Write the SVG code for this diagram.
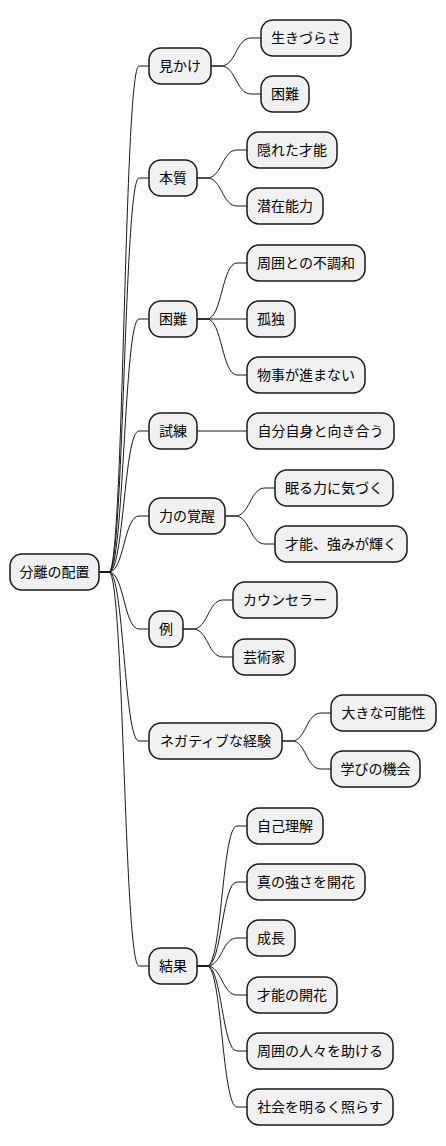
<svg xmlns="http://www.w3.org/2000/svg" width="446" height="1146" viewBox="0 0 446 1146">
<style>
.n rect{fill:#F1F1F1;stroke:#181818;stroke-width:1.5}
.n text{font-family:"Noto Sans CJK JP","Noto Sans",sans-serif;font-size:14px;fill:#000;text-anchor:middle}
#edges path{fill:none;stroke:#181818;stroke-width:1}
</style>
<rect width="446" height="1146" fill="#FFFFFF"/>
<g id="edges">
<path d="M99,572 L109,572 C124,572 124,66 139,66 L149,66"/>
<path d="M99,572 L109,572 C124,572 124,178 139,178 L149,178"/>
<path d="M99,572 L109,572 C124,572 124,319 139,319 L149,319"/>
<path d="M99,572 L109,572 C124,572 124,431 139,431 L149,431"/>
<path d="M99,572 L109,572 C124,572 124,516 139,516 L149,516"/>
<path d="M99,572 L109,572 C124,572 124,629 139,629 L149,629"/>
<path d="M99,572 L109,572 C124,572 124,741 139,741 L149,741"/>
<path d="M99,572 L109,572 C124,572 124,966 139,966 L149,966"/>
<path d="M211,66 L221,66 C236,66 236,38 251,38 L261,38"/>
<path d="M211,66 L221,66 C236,66 236,94 251,94 L261,94"/>
<path d="M197,178 L207,178 C222,178 222,150 237,150 L247,150"/>
<path d="M197,178 L207,178 C222,178 222,206 237,206 L247,206"/>
<path d="M197,319 L207,319 C222,319 222,263 237,263 L247,263"/>
<path d="M197,319 L247,319"/>
<path d="M197,319 L207,319 C222,319 222,375 237,375 L247,375"/>
<path d="M197,431 L247,431"/>
<path d="M225,516 L235,516 C250,516 250,488 265,488 L275,488"/>
<path d="M225,516 L235,516 C250,516 250,544 265,544 L275,544"/>
<path d="M183,629 L193,629 C208,629 208,600 223,600 L233,600"/>
<path d="M183,629 L193,629 C208,629 208,657 223,657 L233,657"/>
<path d="M282,741 L292,741 C306,741 306,713 321,713 L331,713"/>
<path d="M282,741 L292,741 C306,741 306,769 321,769 L331,769"/>
<path d="M197,966 L207,966 C222,966 222,826 237,826 L247,826"/>
<path d="M197,966 L207,966 C222,966 222,882 237,882 L247,882"/>
<path d="M197,966 L207,966 C222,966 222,938 237,938 L247,938"/>
<path d="M197,966 L207,966 C222,966 222,995 237,995 L247,995"/>
<path d="M197,966 L207,966 C222,966 222,1051 237,1051 L247,1051"/>
<path d="M197,966 L207,966 C222,966 222,1107 237,1107 L247,1107"/>
</g>
<g id="root" class="n"><rect x="10" y="554" width="89" height="36" rx="12"/><text x="54.5" y="577">分離の配置</text></g>
<g id="n_mikake" class="n"><rect x="149" y="48" width="62" height="36" rx="12"/><text x="180" y="71">見かけ</text></g>
<g id="n_honshitsu" class="n"><rect x="149" y="160" width="48" height="36" rx="12"/><text x="173" y="183">本質</text></g>
<g id="n_konnan" class="n"><rect x="149" y="301" width="48" height="36" rx="12"/><text x="173" y="324">困難</text></g>
<g id="n_shiren" class="n"><rect x="149" y="413" width="48" height="36" rx="12"/><text x="173" y="436">試練</text></g>
<g id="n_kakusei" class="n"><rect x="149" y="498" width="76" height="36" rx="12"/><text x="187" y="521">力の覚醒</text></g>
<g id="n_rei" class="n"><rect x="149" y="611" width="34" height="36" rx="12"/><text x="166" y="634">例</text></g>
<g id="n_negative" class="n"><rect x="149" y="723" width="133" height="36" rx="12"/><text x="215.5" y="746">ネガティブな経験</text></g>
<g id="n_kekka" class="n"><rect x="149" y="948" width="48" height="36" rx="12"/><text x="173" y="971">結果</text></g>
<g id="c_ikizurasa" class="n"><rect x="261" y="20" width="90" height="36" rx="12"/><text x="306" y="43">生きづらさ</text></g>
<g id="c_konnan2" class="n"><rect x="261" y="76" width="48" height="36" rx="12"/><text x="285" y="99">困難</text></g>
<g id="c_kakureta" class="n"><rect x="247" y="132" width="90" height="36" rx="12"/><text x="292" y="155">隠れた才能</text></g>
<g id="c_senzai" class="n"><rect x="247" y="188" width="76" height="36" rx="12"/><text x="285" y="211">潜在能力</text></g>
<g id="c_fuchowa" class="n"><rect x="247" y="245" width="118" height="36" rx="12"/><text x="306" y="268">周囲との不調和</text></g>
<g id="c_kodoku" class="n"><rect x="247" y="301" width="48" height="36" rx="12"/><text x="271" y="324">孤独</text></g>
<g id="c_susumanai" class="n"><rect x="247" y="357" width="118" height="36" rx="12"/><text x="306" y="380">物事が進まない</text></g>
<g id="c_mukiau" class="n"><rect x="247" y="413" width="147" height="36" rx="12"/><text x="320.5" y="436">自分自身と向き合う</text></g>
<g id="c_nemuru" class="n"><rect x="275" y="470" width="118" height="36" rx="12"/><text x="334" y="493">眠る力に気づく</text></g>
<g id="c_kagayaku" class="n"><rect x="275" y="526" width="132" height="36" rx="12"/><text x="341" y="549">才能、強みが輝く</text></g>
<g id="c_counselor" class="n"><rect x="233" y="582" width="104" height="36" rx="12"/><text x="285" y="605">カウンセラー</text></g>
<g id="c_geijutsuka" class="n"><rect x="233" y="639" width="62" height="36" rx="12"/><text x="264" y="662">芸術家</text></g>
<g id="c_kanousei" class="n"><rect x="331" y="695" width="105" height="36" rx="12"/><text x="383.5" y="718">大きな可能性</text></g>
<g id="c_kikai" class="n"><rect x="331" y="751" width="89" height="36" rx="12"/><text x="375.5" y="774">学びの機会</text></g>
<g id="c_jiko" class="n"><rect x="247" y="808" width="76" height="36" rx="12"/><text x="285" y="831">自己理解</text></g>
<g id="c_tsuyosa" class="n"><rect x="247" y="864" width="118" height="36" rx="12"/><text x="306" y="887">真の強さを開花</text></g>
<g id="c_seicho" class="n"><rect x="247" y="920" width="48" height="36" rx="12"/><text x="271" y="943">成長</text></g>
<g id="c_kaika" class="n"><rect x="247" y="977" width="90" height="36" rx="12"/><text x="292" y="1000">才能の開花</text></g>
<g id="c_tasukeru" class="n"><rect x="247" y="1033" width="146" height="36" rx="12"/><text x="320" y="1056">周囲の人々を助ける</text></g>
<g id="c_terasu" class="n"><rect x="247" y="1089" width="146" height="36" rx="12"/><text x="320" y="1112">社会を明るく照らす</text></g>
</svg>
